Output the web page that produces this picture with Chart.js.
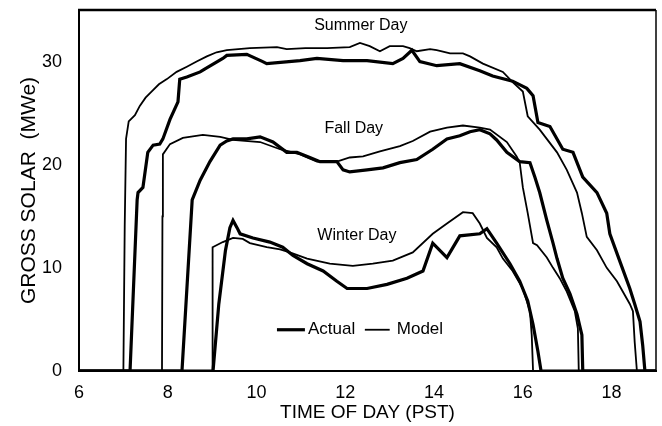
<!DOCTYPE html>
<html>
<head>
<meta charset="utf-8">
<script src="https://cdn.jsdelivr.net/npm/chart.js@4.4.0/dist/chart.umd.min.js"></script>
<style>
  html, body { margin: 0; padding: 0; background: #fff; }
</style>
</head>
<body>
<canvas id="myChart" width="662" height="426"></canvas>
<script>
// [hour, MWe] pairs
const summerActual = [[6,0],[7.15,0],[7.31,16.6],[7.33,17.3],[7.44,17.8],[7.55,21.2],[7.67,21.9],[7.82,22.0],[7.89,22.5],
  [8.05,24.4],[8.23,26.1],[8.27,28.3],[8.43,28.5],[8.73,29.0],[8.84,29.3],[9.24,30.3],[9.33,30.6],[9.78,30.7],[10.14,30.0],
  [10.23,29.8],[10.98,30.1],[11.36,30.3],[11.95,30.1],[12.49,30.1],[13.07,29.8],[13.30,30.3],[13.50,31.1],[13.68,30.0],
  [14.06,29.6],[14.58,29.8],[15.03,29.1],[15.32,28.6],[15.77,28.1],[16.09,27.4],[16.23,26.7],[16.34,24.1],[16.61,23.7],
  [16.90,21.5],[17.13,21.2],[17.35,18.8],[17.67,17.3],[17.89,15.3],[17.96,13.3],[18.18,10.7],[18.41,8.0],[18.52,6.5],
  [18.64,4.8],[18.70,2.5],[18.75,0],[19,0]];
const summerModel = [[6,0],[7.0,0],[7.03,14],[7.06,22.5],[7.12,24.2],[7.26,24.8],[7.37,25.7],[7.5,26.5],[7.64,27.1],
  [7.8,27.8],[7.98,28.3],[8.2,29.0],[8.43,29.5],[8.65,30.0],[8.88,30.5],[9.1,30.9],[9.33,31.1],[9.85,31.3],[10.46,31.4],
  [10.68,31.2],[11.1,31.3],[11.59,31.3],[12.10,31.4],[12.33,31.8],[12.55,31.5],[12.78,31.0],[13.0,31.5],[13.3,31.5],
  [13.45,31.3],[13.61,31.0],[13.91,31.2],[14.06,31.1],[14.36,30.8],[14.65,30.8],[14.81,30.5],[15.10,29.8],[15.55,29.0],
  [15.77,28.0],[16.0,27.1],[16.11,24.7],[16.38,23.4],[16.77,21.2],[16.99,19.5],[17.22,17.3],[17.33,15.3],[17.44,13.0],
  [17.67,11.7],[17.89,10.0],[18.12,8.7],[18.41,6.5],[18.48,5.8],[18.52,2.8],[18.57,0],[19,0]];
const fallActual = [[6,0],[8.32,0],[8.55,16.6],[8.73,18.5],[8.95,20.3],[9.18,21.9],[9.33,22.3],[9.47,22.5],[9.78,22.5],
  [10.08,22.7],[10.37,22.2],[10.68,21.2],[10.91,21.2],[11.20,20.7],[11.43,20.3],[11.81,20.3],[11.95,19.5],[12.10,19.3],
  [12.49,19.5],[12.85,19.7],[13.23,20.2],[13.61,20.5],[13.97,21.5],[14.29,22.5],[14.58,22.8],[14.81,23.2],[15.03,23.4],
  [15.26,23.0],[15.41,22.4],[15.64,21.2],[15.93,20.3],[16.16,20.2],[16.27,18.8],[16.38,17.3],[16.54,14.6],[16.68,12.4],
  [16.77,10.9],[16.90,9.0],[17.06,7.5],[17.22,5.5],[17.33,3.5],[17.35,0],[19,0]];
const fallModel = [[6,0],[7.87,0],[7.88,15],[7.89,21.0],[8.05,22.0],[8.34,22.6],[8.79,22.9],[9.18,22.7],[9.47,22.4],
  [10.08,22.2],[10.53,21.5],[10.98,21.0],[11.36,20.3],[11.81,20.3],[12.10,20.7],[12.40,20.8],[12.78,21.3],[13.23,21.8],
  [13.52,22.3],[13.91,23.2],[14.29,23.6],[14.65,23.8],[15.03,23.6],[15.26,23.4],[15.64,22.2],[15.86,20.8],[15.93,20.2],
  [16.0,17.8],[16.11,15.3],[16.23,12.4],[16.32,12.2],[16.54,11.0],[16.68,10.0],[16.83,9.0],[16.99,7.7],[17.17,5.8],
  [17.24,4.1],[17.26,0],[19,0]];
const winterActual = [[6,0],[9.02,0],[9.15,6.5],[9.3,11.7],[9.40,13.9],[9.47,14.6],[9.56,13.9],[9.63,13.3],[9.92,12.9],
  [10.30,12.5],[10.59,12.0],[10.82,11.2],[11.14,10.4],[11.50,9.7],[11.81,8.7],[12.04,8.0],[12.49,8.0],[12.94,8.4],
  [13.39,9.0],[13.75,9.7],[13.97,12.4],[14.29,11.0],[14.58,13.1],[15.03,13.3],[15.19,13.8],[15.41,12.4],[15.71,10.4],
  [15.93,8.7],[16.11,6.8],[16.23,4.5],[16.34,1.9],[16.41,0],[19,0]];
const winterModel = [[6,0],[9.0,0],[9.01,12.0],[9.24,12.5],[9.47,12.9],[9.69,12.8],[9.85,12.4],[10.23,12.0],[10.53,11.8],
  [10.75,11.5],[11.14,10.9],[11.65,10.4],[12.17,10.2],[12.62,10.4],[13.07,10.7],[13.52,11.5],[13.97,13.3],[14.29,14.3],
  [14.65,15.4],[14.87,15.3],[15.03,14.3],[15.19,12.9],[15.41,12.0],[15.55,10.9],[15.77,9.7],[16.0,8.0],[16.16,5.8],
  [16.20,3.5],[16.23,0],[19,0]];

const xTicks = [6, 8, 10, 12, 14, 16, 18];
const yTicks = [0, 10, 20, 30];
const dayLabels = ['Summer Day', 'Fall Day', 'Winter Day'];
const legendLabels = ['Actual', 'Model'];

const FONT = '"Liberation Sans", Arial, Helvetica, sans-serif';
const THICK = 3.2, THIN = 1.8;

function toPoints(arr) {
    return arr.map(p => ({ x: p[0], y: p[1] }));
}

function makeSet(label, arr, width) {
    return {
        label: label,
        data: toPoints(arr),
        borderColor: '#000',
        borderWidth: width,
        pointRadius: 0,
        tension: 0,
        fill: false
    };
}

// frame top/right, curve labels and the little legend
const annotate = {
    id: 'annotate',
    afterDatasetsDraw(chart) {
        const { ctx, chartArea: a, scales: { x, y } } = chart;
        ctx.save();
        ctx.strokeStyle = '#000';
        ctx.lineWidth = 2.5;
        ctx.beginPath(); ctx.moveTo(a.left - 1, a.top); ctx.lineTo(a.right, a.top); ctx.stroke();
        ctx.lineWidth = 1.5;
        ctx.beginPath(); ctx.moveTo(a.right, a.top); ctx.lineTo(a.right, a.bottom); ctx.stroke();

        ctx.fillStyle = '#000';
        ctx.font = '16px ' + FONT;
        ctx.textAlign = 'center';
        ctx.textBaseline = 'middle';
        const spots = [[12.35, 33.5], [12.19, 23.5], [12.26, 13.1]];
        dayLabels.forEach((t, i) => ctx.fillText(t, x.getPixelForValue(spots[i][0]), y.getPixelForValue(spots[i][1])));

        const ly = y.getPixelForValue(4.0);
        ctx.lineCap = 'butt';
        ctx.lineWidth = THICK;
        ctx.beginPath(); ctx.moveTo(x.getPixelForValue(10.46), ly); ctx.lineTo(x.getPixelForValue(11.09), ly); ctx.stroke();
        ctx.lineWidth = THIN;
        ctx.beginPath(); ctx.moveTo(x.getPixelForValue(12.44), ly); ctx.lineTo(x.getPixelForValue(13.0), ly); ctx.stroke();
        ctx.font = '17px ' + FONT;
        ctx.textAlign = 'left';
        ctx.fillText(legendLabels[0], x.getPixelForValue(11.16), ly);
        ctx.fillText(legendLabels[1], x.getPixelForValue(13.16), ly);
        ctx.restore();
    }
};

const ctx = document.getElementById('myChart').getContext('2d');
new Chart(ctx, {
    type: 'line',
    data: {
        datasets: [
            makeSet('Summer Actual', summerActual, THICK),
            makeSet('Summer Model', summerModel, THIN),
            makeSet('Fall Actual', fallActual, THICK),
            makeSet('Fall Model', fallModel, THIN),
            makeSet('Winter Actual', winterActual, THICK),
            makeSet('Winter Model', winterModel, THIN)
        ]
    },
    options: {
        responsive: false,
        animation: false,
        layout: { padding: { top: 10, right: 6, left: 0, bottom: 0 } },
        plugins: {
            legend: { display: false },
            tooltip: { enabled: false }
        },
        scales: {
            x: {
                type: 'linear',
                min: 6,
                max: 19,
                grid: { display: false, drawTicks: false },
                border: { display: true, color: '#000', width: 2 },
                afterBuildTicks: s => { s.ticks = xTicks.map(v => ({ value: v })); },
                afterFit: s => { s.height = 55; s.paddingLeft = 0; s.paddingRight = 0; },
                ticks: {
                    color: '#000',
                    padding: 11,
                    maxRotation: 0,
                    autoSkip: false,
                    font: { family: FONT, size: 18 }
                },
                title: {
                    display: true,
                    text: 'TIME OF DAY (PST)',
                    color: '#000',
                    padding: { top: 0, bottom: 2 },
                    font: { family: FONT, size: 19 }
                }
            },
            y: {
                min: 0,
                max: 35,
                grid: { display: false, drawTicks: false },
                border: { display: true, color: '#000', width: 2 },
                afterBuildTicks: s => { s.ticks = yTicks.map(v => ({ value: v })); },
                afterFit: s => { s.width = 79; s.paddingTop = 0; s.paddingBottom = 0; },
                ticks: {
                    color: '#000',
                    padding: 17,
                    font: { family: FONT, size: 18 }
                },
                title: {
                    display: true,
                    text: 'GROSS SOLAR  (MWe)',
                    color: '#000',
                    padding: { top: 17, bottom: 0 },
                    font: { family: FONT, size: 21 }
                }
            }
        }
    },
    plugins: [annotate]
});
</script>
</body>
</html>
